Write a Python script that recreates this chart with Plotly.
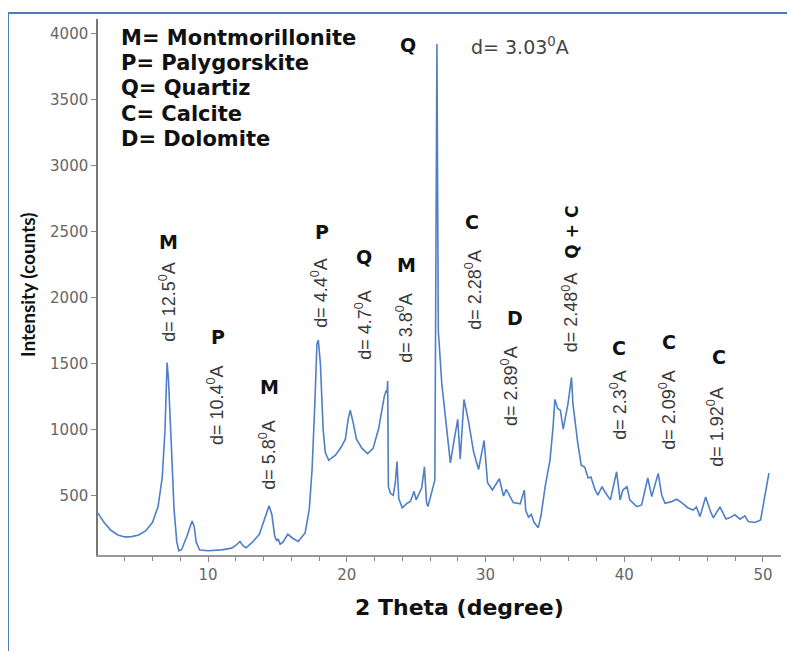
import plotly.graph_objects as go

# ---- data (2-theta in degrees, intensity in counts) ----
two_theta = [
    2.07, 2.5, 3.0, 3.5, 4.0, 4.5, 5.0, 5.5, 6.0, 6.4, 6.7, 6.9, 7.05, 7.15, 7.35, 7.55, 7.75, 7.9,
    8.1, 8.5, 8.85, 9.0, 9.15, 9.4, 10.0, 11.0, 11.7, 12.0, 12.3, 12.55, 12.75, 13.2, 13.7, 14.0,
    14.4, 14.6, 14.8, 14.95, 15.05, 15.2, 15.4, 15.75, 16.1, 16.5, 17.0, 17.3, 17.5, 17.7, 17.85,
    17.95, 18.1, 18.3, 18.45, 18.7, 19.2, 19.6, 19.9, 20.1, 20.25, 20.45, 20.7, 21.1, 21.5, 21.9,
    22.3, 22.7, 22.85, 22.9, 22.95, 23.0, 23.15, 23.35, 23.5, 23.62, 23.75, 24.0, 24.3, 24.6,
    24.85, 25.0, 25.2, 25.4, 25.6, 25.75, 25.85, 26.1, 26.35, 26.5, 26.6, 26.85, 27.15, 27.47,
    27.75, 28.0, 28.18, 28.45, 28.75, 29.15, 29.5, 29.9, 30.15, 30.5, 31.0, 31.3, 31.5, 32.0,
    32.5, 32.8, 32.9, 33.1, 33.3, 33.5, 33.8, 34.0, 34.3, 34.65, 34.87, 35.0, 35.2, 35.4, 35.6,
    35.95, 36.2, 36.3, 36.65, 36.9, 37.15, 37.4, 37.6, 37.9, 38.1, 38.4, 38.6, 39.0, 39.45, 39.7,
    39.9, 40.2, 40.4, 40.9, 41.25, 41.6, 41.7, 41.98, 42.2, 42.45, 42.7, 42.94, 43.4, 43.78,
    44.14, 44.6, 44.98, 45.2, 45.46, 45.87, 46.18, 46.42, 46.9, 47.33, 47.6, 47.98, 48.34, 48.7,
    48.94, 49.42, 49.83, 50.14, 50.43,
]
intensity = [
    370, 300, 240, 205, 190, 192, 205, 235, 300, 420, 640, 1000, 1510, 1380, 900, 400, 150, 85,
    95, 200, 310, 270, 150, 90, 85, 92, 105, 125, 155, 120, 108, 150, 210, 300,
    425, 360, 200, 160, 175, 135, 150, 210, 180, 155, 220, 400, 700, 1200, 1650,
    1680, 1500, 1000, 830, 770, 810, 870, 930, 1080, 1150, 1060, 930, 860, 820, 860,
    1010, 1250, 1300, 1280, 1370, 570, 520, 505, 600, 760, 480, 410, 440, 460,
    535, 470, 520, 560, 720, 450, 420, 530, 620, 3920, 1750, 1350, 1070, 750,
    930, 1080, 780, 1230, 1080, 830, 700, 920, 600, 545, 630, 500, 550, 450,
    440, 545, 390, 340, 360, 300, 260, 350, 570, 771, 1022, 1231, 1163, 1148, 1005,
    1201, 1397, 1201, 900, 733, 719, 636, 643, 545, 507, 570, 532, 470, 683, 470,
    545, 570, 470, 419, 432, 598, 636, 495, 583, 671, 507, 445, 457, 475,
    449, 409, 394, 417, 344, 492, 394, 334, 417, 326, 334, 357, 324, 349,
    306, 299, 319, 495, 673,
]

legend_lines = ["M= Montmorillonite", "P= Palygorskite", "Q= Quartiz", "C= Calcite", "D= Dolomite"]

# phase letters above peaks: (label, 2theta, intensity)
phase_labels = ["M", "P", "M", "P", "Q", "M", "Q", "C", "D", "C", "C", "C"]
phase_x = [7.12, 10.72, 14.4, 18.2, 21.24, 24.34, 24.41, 29.03, 32.13, 39.62, 43.23, 46.83]
phase_y = [2424, 1705, 1326, 2500, 2311, 2250, 3917, 2576, 1848, 1621, 1667, 1553]

# rotated d-spacing labels
d_labels = ["12.5", "10.4", "5.8", "4.4", "4.7", "3.8", "2.28", "2.89", "2.48", "2.3", "2.09", "1.92"]
d_x = [7.12, 10.58, 14.32, 18.07, 21.24, 24.2, 29.17, 31.77, 36.09, 39.62, 43.15, 46.61]
d_y = [1970, 1189, 811, 2038, 1795, 1773, 2061, 1333, 1890, 1189, 1152, 1023]

quartz_main_label = "3.03"
quartz_main_x = 32.49
quartz_main_y = 3902

x_ticks = [10, 20, 30, 40, 50]
y_ticks = [500, 1000, 1500, 2000, 2500, 3000, 3500, 4000]

LINE = "#4f7fc6"
BOLD = "DejaVu Sans, Verdana, sans-serif"

fig = go.Figure()
fig.add_trace(go.Scatter(x=two_theta, y=intensity, mode="lines",
                         line=dict(color=LINE, width=1.6), showlegend=False,
                         hoverinfo="skip"))

ann = []
# legend block
for i, t in enumerate(legend_lines):
    ann.append(dict(text="<b>%s</b>" % t, xref="paper", yref="paper",
                    x=(119 - 98) / 683, y=(555 - (38 + 25.2 * i)) / 536,
                    xanchor="left", yanchor="middle", showarrow=False,
                    font=dict(family=BOLD, size=21, color="#111")))
# phase letters
for t, x, y in zip(phase_labels, phase_x, phase_y):
    ann.append(dict(text="<b>%s</b>" % t, x=x, y=y, xref="x", yref="y",
                    showarrow=False, xanchor="center", yanchor="middle",
                    font=dict(family=BOLD, size=19, color="#111")))
# Q + C rotated
ann.append(dict(text="<b>Q + C</b>", x=36.23, y=2500, xref="x", yref="y",
                showarrow=False, textangle=-90, xanchor="center", yanchor="middle",
                font=dict(family=BOLD, size=17, color="#111")))
# d spacing rotated
for t, x, y in zip(d_labels, d_x, d_y):
    ann.append(dict(text="d= %s<sup>0</sup>A" % t, x=x, y=y, xref="x", yref="y",
                    showarrow=False, textangle=-90, xanchor="center", yanchor="middle",
                    font=dict(family="Liberation Sans, Arial, sans-serif", size=18, color="#3a3a3a")))
ann.append(dict(text="d= %s<sup>0</sup>A" % quartz_main_label, x=quartz_main_x, y=quartz_main_y,
                xref="x", yref="y", showarrow=False, xanchor="center", yanchor="middle",
                font=dict(family="DejaVu Sans, sans-serif", size=19, color="#444")))
# axis titles
ann.append(dict(text="<b>2 Theta (degree)</b>", xref="paper", yref="paper",
                x=(459 - 98) / 683, y=(555 - 607) / 536, xanchor="center", yanchor="middle",
                showarrow=False, font=dict(family=BOLD, size=22, color="#111")))
ann.append(dict(text="<b>Intensity (counts)</b>", xref="paper", yref="paper",
                x=(27 - 98) / 683, y=(555 - 285) / 536, xanchor="center", yanchor="middle",
                textangle=-90, showarrow=False,
                font=dict(family="Lato, sans-serif", size=19, color="#111")))

BORDER = "#4a7ebb"
shapes = [
    dict(type="line", xref="paper", yref="paper", x0=(8 - 98) / 683, x1=(800 - 98) / 683,
         y0=(555 - 13) / 536, y1=(555 - 13) / 536, line=dict(color=BORDER, width=2)),
    dict(type="line", xref="paper", yref="paper", x0=(8 - 98) / 683, x1=(8 - 98) / 683,
         y0=(555 - 13) / 536, y1=(555 - 660) / 536, line=dict(color=BORDER, width=2)),
]

# page body has an 8px margin, so the figure is 8px smaller and margins shifted
fig.update_layout(
    width=787, height=643,
    margin=dict(l=90, r=14, t=11, b=96),
    paper_bgcolor="white", plot_bgcolor="white",
    annotations=ann, shapes=shapes,
    xaxis=dict(range=[2.07, 51.3], tickvals=x_ticks, ticks="outside", ticklen=5,
               tickcolor="#888", showline=True, linecolor="#999", linewidth=1.5,
               showgrid=False, zeroline=False,
               tickfont=dict(family="DejaVu Sans, sans-serif", size=15, color="#666"),
               minor=dict(dtick=2, tick0=0, ticks="outside", ticklen=4, tickcolor="#888")),
    yaxis=dict(range=[53, 4110], tickvals=y_ticks, ticks="outside", ticklen=5,
               tickcolor="#888", showline=True, linecolor="#777", linewidth=1.5,
               showgrid=False, zeroline=False,
               tickfont=dict(family="DejaVu Sans, sans-serif", size=15, color="#666")),
)

fig.write_html("out.html")
